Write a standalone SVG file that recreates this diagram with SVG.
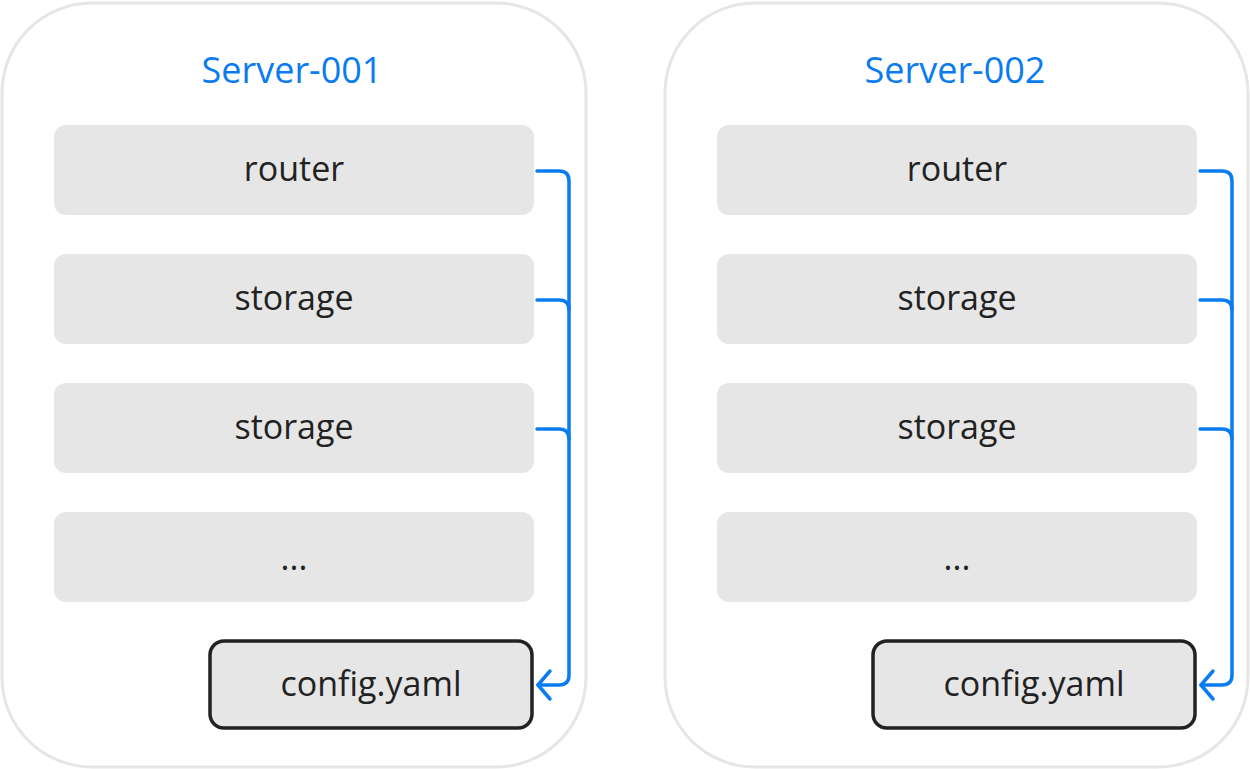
<svg xmlns="http://www.w3.org/2000/svg" width="1250" height="769" viewBox="0 0 1250 769">
<style>
.srv{fill:#fff;stroke:#e6e6e6;stroke-width:3}
.box{fill:#e6e6e6}
.cfg{fill:#e6e6e6;stroke:#222;stroke-width:3.5}
.t{font-family:"Open Sans",sans-serif;font-size:34px;fill:#222;text-anchor:middle;dominant-baseline:central}
.h{font-family:"Open Sans",sans-serif;font-size:36px;fill:#0a7cf0;text-anchor:middle;dominant-baseline:central}
.c{fill:none;stroke:#0a7cf0;stroke-width:3.5;stroke-linejoin:round;stroke-linecap:round}
</style>
<rect width="1250" height="769" fill="#fff"/>
<g id="server1">
<rect class="srv" x="2" y="3" width="584" height="764" rx="90"/>
<text class="h" x="292" y="69">Server-001</text>
</g>
<g id="s1-router"><rect class="box" x="54" y="125" width="480" height="90" rx="12"/><text class="t" x="294" y="168">router</text></g>
<g id="s1-storage1"><rect class="box" x="54" y="254" width="480" height="90" rx="12"/><text class="t" x="294" y="297">storage</text></g>
<g id="s1-storage2"><rect class="box" x="54" y="383" width="480" height="90" rx="12"/><text class="t" x="294" y="426">storage</text></g>
<g id="s1-more"><rect class="box" x="54" y="512" width="480" height="90" rx="12"/><text class="t" x="294" y="557">...</text></g>
<g id="s1-config"><rect class="cfg" x="210" y="641" width="322" height="87" rx="14"/><text class="t" x="371" y="683">config.yaml</text></g>
<g id="server2">
<rect class="srv" x="665" y="3" width="583" height="764" rx="90"/>
<text class="h" x="955" y="69">Server-002</text>
</g>
<g id="s2-router"><rect class="box" x="717" y="125" width="480" height="90" rx="12"/><text class="t" x="957" y="168">router</text></g>
<g id="s2-storage1"><rect class="box" x="717" y="254" width="480" height="90" rx="12"/><text class="t" x="957" y="297">storage</text></g>
<g id="s2-storage2"><rect class="box" x="717" y="383" width="480" height="90" rx="12"/><text class="t" x="957" y="426">storage</text></g>
<g id="s2-more"><rect class="box" x="717" y="512" width="480" height="90" rx="12"/><text class="t" x="957" y="557">...</text></g>
<g id="s2-config"><rect class="cfg" x="873" y="641" width="322" height="87" rx="14"/><text class="t" x="1034" y="683">config.yaml</text></g>
<g id="connectors">
<path class="c" d="M537 171 H559 Q569 171 569 181 V675 Q569 685 559 685 H538"/>
<path class="c" d="M537 300 H559 Q569 300 569 310"/>
<path class="c" d="M537 429 H559 Q569 429 569 439"/>
<path class="c" d="M550 671 L538 685 L550 699"/>
<path class="c" d="M1200 171 H1222 Q1232 171 1232 181 V675 Q1232 685 1222 685 H1201"/>
<path class="c" d="M1200 300 H1222 Q1232 300 1232 310"/>
<path class="c" d="M1200 429 H1222 Q1232 429 1232 439"/>
<path class="c" d="M1213 671 L1201 685 L1213 699"/>
</g>
</svg>
